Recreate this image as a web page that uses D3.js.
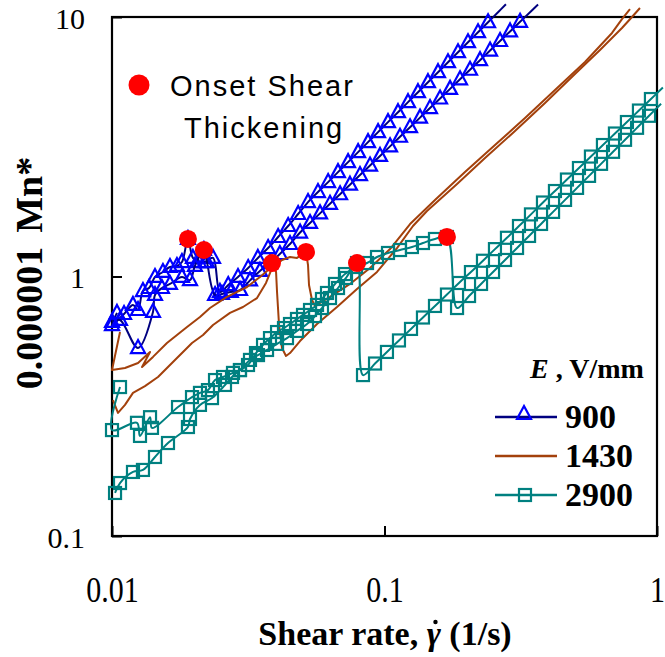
<!DOCTYPE html>
<html>
<head>
<meta charset="utf-8">
<script src="https://cdn.jsdelivr.net/npm/d3@7"></script>
<style>
  body { margin: 0; background: #fff; }
  svg { display: block; }
</style>
</head>
<body>
<svg id="chart" width="665" height="657"></svg>
<script>
// Axis ticks
const xTickValues = [0.01, 0.1, 1];
const yTickValues = [0.1, 1, 10];

// Field strengths (legend)
const fieldLabels = ["900", "1430", "2900"];

// 900 V/mm, first sweep: [shear rate (1/s), Mn*]
const sweep900a = [
  [0.01043,0.724],[0.0100,0.650],[0.01107,0.717],[0.01194,0.777],[0.01246,0.743],
  [0.01299,0.879],[0.01367,0.903],[0.01438,0.996],[0.01538,1.041],[0.01632,1.088],
  [0.01731,1.098],[0.01806,1.137],[0.0190,1.395],[0.01981,1.179],[0.02085,1.137],
  [0.02192,1.137],[0.02348,1.179],[0.0249,0.872],
  [0.0267,0.927],[0.0290,0.996],[0.0316,1.078],[0.0343,1.179],[0.0374,1.287],
  [0.0407,1.420],[0.0443,1.565],[0.0482,1.741],[0.0524,1.936],[0.0570,2.115],
  [0.0621,2.311],[0.0675,2.525],[0.0735,2.759],[0.0800,3.015],[0.0870,3.295],
  [0.0947,3.600],[0.1030,3.934],[0.1121,4.298],[0.1220,4.697],[0.1327,5.132],
  [0.1444,5.608],[0.1572,6.128],[0.1710,6.696],[0.1861,7.317],[0.2025,7.995],
  [0.2204,8.737],[0.2399,9.546],[0.2610,10.43],[0.279,11.2]
];

// 900 V/mm, second sweep
const sweep900b = [
  [0.0100,0.668],[0.0107,0.680],[0.01246,0.530],[0.01414,0.730],[0.01438,0.849],
  [0.01525,0.903],[0.01632,0.936],[0.01806,0.996],[0.01933,0.969],[0.02015,1.098],
  [0.02174,1.265],[0.02231,1.137],[0.02389,0.849],[0.02533,0.856],[0.0273,0.872],
  [0.0295,0.887],[0.0321,0.966],[0.0349,1.051],[0.0380,1.127],[0.0413,1.221],
  [0.0450,1.334],[0.0490,1.477],[0.0533,1.608],[0.0580,1.751],[0.0631,1.906],
  [0.0687,2.075],[0.0747,2.259],[0.0813,2.459],[0.0885,2.677],[0.0963,2.915],
  [0.1048,3.173],[0.1140,3.455],[0.1241,3.761],[0.1350,4.095],[0.1469,4.458],
  [0.1599,4.853],[0.1740,5.284],[0.1893,5.752],[0.2060,6.263],[0.2242,6.818],
  [0.2440,7.423],[0.2655,8.082],[0.2889,8.798],[0.3144,9.579],[0.342,10.43],[0.366,11.17]
];

// 1430 V/mm, first sweep
const sweep1430a = [
  [0.0107,0.611],[0.0100,0.436],[0.01116,0.444],[0.01246,0.464],[0.01379,0.512],
  [0.01289,0.448],[0.01414,0.490],[0.01591,0.554],[0.01885,0.639],[0.02103,0.698],
  [0.02288,0.756],[0.02642,0.834],[0.0313,0.911],[0.03492,0.996],[0.03706,1.050],
  [0.03866,1.127],[0.0400,1.041],[0.04033,0.872],[0.04102,0.650],[0.04206,0.530],
  [0.0435,0.494],[0.0450,0.507],[0.04897,0.564],[0.05654,0.656],[0.06694,0.763],
  [0.07927,0.895],[0.09387,1.041],[0.1111,1.287],[0.1272,1.565],[0.1432,1.788],
  [0.1846,2.273],[0.2338,2.862],[0.3012,3.637],[0.3882,4.662],[0.500,6.030],
  [0.6178,7.462],[0.7438,9.07],[0.8094,10.0],[0.866,10.83]
];

// 1430 V/mm, second sweep
const sweep1430b = [
  [0.01008,0.334],[0.01052,0.298],[0.01116,0.320],[0.01194,0.356],[0.01321,0.378],
  [0.01475,0.410],[0.0166,0.464],[0.01853,0.521],[0.01966,0.554],[0.02158,0.595],
  [0.02348,0.650],[0.0271,0.724],[0.03025,0.763],[0.03405,0.826],[0.03674,0.944],
  [0.03866,1.078],[0.04206,1.158],[0.0450,1.189],[0.04774,1.179],[0.05152,1.243],
  [0.0524,1.107],[0.05284,0.927],[0.0542,0.812],[0.05559,0.770],[0.0631,0.834],
  [0.0747,0.936],[0.0885,1.078],[0.1048,1.276],[0.1241,1.593],[0.1532,1.971],
  [0.1974,2.527],[0.2544,3.211],[0.3278,4.08],[0.4223,5.23],[0.5442,6.71],
  [0.6838,8.68],[0.7438,9.82],[0.7958,10.73]
];

// 2900 V/mm, first sweep
const sweep2900a = [
  [0.01026,0.1465],[0.0107,0.160],[0.01194,0.1765],[0.01299,0.1797],[0.01438,0.2016],
  [0.01605,0.2282],[0.0190,0.2630],[0.01933,0.2824],[0.02103,0.320],[0.02328,0.340],
  [0.02598,0.382],[0.02757,0.410],[0.02949,0.436],[0.03209,0.477],[0.03434,0.498],
  [0.03706,0.521],[0.04033,0.550],[0.04387,0.579],[0.04774,0.617],[0.05196,0.656],
  [0.05559,0.704],[0.05896,0.756],[0.0631,0.826],[0.06752,0.903],[0.07223,0.987],
  [0.07927,1.127],[0.08339,0.417],
  [0.0923,0.462],[0.1021,0.512],[0.1130,0.567],[0.1251,0.628],[0.1384,0.695],
  [0.1532,0.770],[0.1695,0.852],[0.1876,0.944],[0.2076,1.040],[0.2298,1.150],
  [0.2543,1.275],[0.2814,1.410],[0.3115,1.565],[0.3447,1.735],[0.3815,1.928],
  [0.4222,2.135],[0.4672,2.364],[0.5171,2.618],[0.5722,2.899],[0.6333,3.211],
  [0.7008,3.556],[0.7756,3.938],[0.8584,4.360],[0.950,4.829],[1.051,5.347]
];

// 2900 V/mm, second sweep
const sweep2900b = [
  [0.0107,0.375],[0.0100,0.256],[0.01235,0.273],[0.01267,0.243],[0.01379,0.287],
  [0.01402,0.261],[0.01747,0.314],[0.01966,0.343],[0.02103,0.356],[0.0225,0.365],
  [0.02388,0.399],[0.02555,0.410],[0.0278,0.425],[0.02949,0.436],[0.03156,0.456],
  [0.03376,0.507],[0.03583,0.545],[0.0380,0.579],[0.04033,0.611],[0.04277,0.633],
  [0.0450,0.656],[0.04774,0.686],[0.05023,0.711],[0.05329,0.743],[0.05654,0.777],
  [0.05896,0.819],[0.06151,0.864],[0.06582,0.936],[0.07161,1.022],[0.0786,1.088],
  [0.08627,1.127],[0.09387,1.189],[0.1030,1.232],[0.1140,1.265],[0.1261,1.299],
  [0.1384,1.346],[0.1532,1.395],[0.1695,1.420],[0.1846,0.756],
  [0.2043,0.841],[0.2261,0.936],[0.2502,1.041],[0.2769,1.158],[0.3065,1.288],
  [0.3392,1.433],[0.3754,1.594],[0.4155,1.774],[0.4598,1.973],[0.5089,2.195],
  [0.5632,2.442],[0.6233,2.717],[0.6898,3.023],[0.7634,3.363],[0.8449,3.741],
  [0.935,4.162],[1.035,4.630]
];

// Onset of shear thickening
const onsetRate = [0.0190, 0.02174, 0.03866, 0.05152, 0.07927, 0.1695];
const onsetMn   = [1.395, 1.265, 1.127, 1.243, 1.127, 1.420];

const svg = d3.select("#chart");
const plot = { left: 112, right: 657, top: 17, bottom: 536 };

const x = d3.scaleLog().domain([0.01, 1]).range([plot.left, plot.right]);
const y = d3.scaleLog().domain([0.1, 10]).range([plot.bottom, plot.top]);

const serif = "'Liberation Serif', 'Times New Roman', serif";
const sans = "'Liberation Sans', Arial, sans-serif";

const NAVY = "#000080", BLUE = "#0000FF", BROWN = "#A3410C", TEAL = "#008080", RED = "#FF0000";

// Axes: inward ticks; tick labels in a Times-style face
const xAxis = d3.axisBottom(x).tickValues(xTickValues).tickSize(-10).tickSizeOuter(0)
  .tickPadding(0).tickFormat(d3.format("~g"));
const gx = svg.append("g").attr("transform", `translate(0,${plot.bottom})`).call(xAxis)
  .attr("font-family", serif).attr("font-size", 30);
gx.select(".domain").remove();
gx.selectAll(".tick line").attr("stroke", "#000").attr("stroke-width", 2);
gx.selectAll(".tick text")
  .attr("dy", null).attr("y", 0).attr("transform", "translate(0,66) scale(1,1.18)")
  .style("font-family", serif).style("font-size", "30px").attr("fill", "#000");

const yAxis = d3.axisLeft(y).tickValues(yTickValues).tickSize(-10).tickSizeOuter(0)
  .tickPadding(0).tickFormat(d3.format("~g"));
const gy = svg.append("g").attr("transform", `translate(${plot.left},0)`).call(yAxis)
  .attr("font-family", serif).attr("font-size", 30);
gy.select(".domain").remove();
gy.selectAll(".tick line").attr("stroke", "#000").attr("stroke-width", 2);
gy.selectAll(".tick text")
  .attr("dy", null).attr("x", -27).attr("y", 11)
  .style("font-family", serif).style("font-size", "30px").attr("fill", "#000");

// Plot frame
svg.append("rect")
  .attr("x", plot.left).attr("y", plot.top)
  .attr("width", plot.right - plot.left).attr("height", plot.bottom - plot.top)
  .attr("fill", "none").attr("stroke", "#000").attr("stroke-width", 2.2);

// Line generators
const smoothLine = d3.line().x(d => x(d[0])).y(d => y(d[1])).curve(d3.curveCatmullRom.alpha(0.5));
const straightLine = d3.line().x(d => x(d[0])).y(d => y(d[1]));

const inside = d => d[0] >= 0.01 && d[0] <= 1 && d[1] >= 0.1 && d[1] <= 10;

const triPath = "M0,-8L7,5L-7,5Z";

function drawSweep(data, lineGen, lineColor, marker, markerColor) {
  const g = svg.append("g");
  g.append("path").attr("d", lineGen(data))
    .attr("fill", "none").attr("stroke", lineColor).attr("stroke-width", 2)
    .attr("stroke-linejoin", "round");
  const pts = data.filter(inside);
  if (marker === "triangle") {
    g.selectAll("path.m").data(pts).join("path").attr("class", "m")
      .attr("d", triPath)
      .attr("transform", d => `translate(${x(d[0])},${y(d[1])})`)
      .attr("fill", "none").attr("stroke", markerColor).attr("stroke-width", 2.2);
  } else if (marker === "square") {
    g.selectAll("rect.m").data(pts).join("rect").attr("class", "m")
      .attr("x", d => x(d[0]) - 6).attr("y", d => y(d[1]) - 6)
      .attr("width", 12).attr("height", 12)
      .attr("fill", "none").attr("stroke", markerColor).attr("stroke-width", 2.2);
  }
}

drawSweep(sweep900a, smoothLine, NAVY, "triangle", BLUE);
drawSweep(sweep900b, smoothLine, NAVY, "triangle", BLUE);
drawSweep(sweep1430a, straightLine, BROWN, null, null);
drawSweep(sweep1430b, straightLine, BROWN, null, null);
drawSweep(sweep2900a, smoothLine, TEAL, "square", TEAL);
drawSweep(sweep2900b, smoothLine, TEAL, "square", TEAL);

// Onset points
svg.append("g").selectAll("circle").data(onsetRate.map((r, i) => [r, onsetMn[i]]))
  .join("circle")
  .attr("cx", d => x(d[0])).attr("cy", d => y(d[1])).attr("r", 9)
  .attr("fill", RED);

// Onset legend
svg.append("circle").attr("cx", 139).attr("cy", 85).attr("r", 10.5).attr("fill", RED);
svg.append("text").attr("x", 170).attr("y", 96)
  .style("font-family", sans).style("font-size", "29px").style("letter-spacing", "2px")
  .text("Onset Shear");
svg.append("text").attr("x", 184).attr("y", 138)
  .style("font-family", sans).style("font-size", "29px").style("letter-spacing", "2px")
  .text("Thickening");

// Field legend
const legTitle = svg.append("text").attr("x", 530).attr("y", 378)
  .style("font-family", serif).style("font-size", "28px").style("font-weight", "bold");
legTitle.append("tspan").style("font-style", "italic").text("E");
legTitle.append("tspan").text(" , V/mm");

const legRows = [
  { label: fieldLabels[0], line: NAVY, marker: "triangle", mcolor: BLUE, y: 417 },
  { label: fieldLabels[1], line: BROWN, marker: null, mcolor: null, y: 456 },
  { label: fieldLabels[2], line: TEAL, marker: "square", mcolor: TEAL, y: 495 }
];
legRows.forEach(r => {
  svg.append("line").attr("x1", 495).attr("x2", 557).attr("y1", r.y).attr("y2", r.y)
    .attr("stroke", r.line).attr("stroke-width", 2.5);
  if (r.marker === "triangle") {
    svg.append("path").attr("d", triPath).attr("transform", `translate(524,${r.y - 3})`)
      .attr("fill", "none").attr("stroke", r.mcolor).attr("stroke-width", 2.2);
  } else if (r.marker === "square") {
    svg.append("rect").attr("x", 519).attr("y", r.y - 6).attr("width", 12).attr("height", 12)
      .attr("fill", "none").attr("stroke", r.mcolor).attr("stroke-width", 2.2);
  }
  svg.append("text").attr("x", 565).attr("y", r.y + 11)
    .style("font-family", serif).style("font-size", "34px").style("font-weight", "bold")
    .text(r.label);
});

// Axis titles
const xTitleBase = 645;
const xt = svg.append("text").attr("x", 385).attr("y", xTitleBase).attr("text-anchor", "middle")
  .style("font-family", serif).style("font-size", "34px").style("font-weight", "bold");
xt.append("tspan").text("Shear rate, ");
xt.append("tspan").style("font-style", "italic").text("\u03B3");
xt.append("tspan").text(" (1/s)");
// dot over the gamma (shear-rate symbol)
const gammaBox = xt.node().getExtentOfChar(12);
svg.append("circle")
  .attr("cx", gammaBox.x + gammaBox.width * 0.62)
  .attr("cy", xTitleBase - 23)
  .attr("r", 2.2).attr("fill", "#000");

const yt = svg.append("text").attr("transform", "translate(42,273) rotate(-90)")
  .attr("text-anchor", "middle")
  .style("font-family", serif).style("font-size", "38px").style("font-weight", "bold");
yt.append("tspan").text("0.000001");
yt.append("tspan").attr("dx", 14).text("Mn*");
</script>
</body>
</html>
